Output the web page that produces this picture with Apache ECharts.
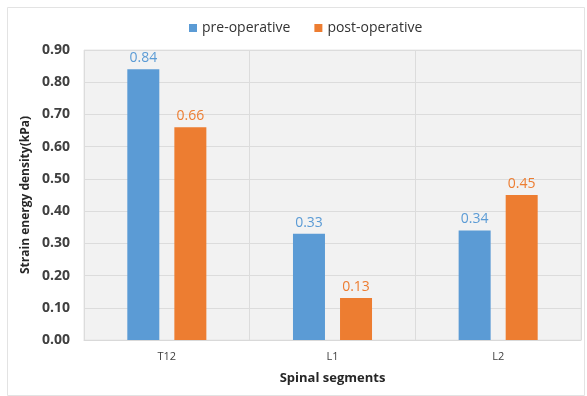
<!DOCTYPE html>
<html>
<head>
<meta charset="utf-8">
<script src="https://cdn.jsdelivr.net/npm/echarts@6/dist/echarts.min.js"></script>
<style>
  html, body { margin: 0; padding: 0; background: #fff; }
  #chart { width: 587px; height: 396px; }
</style>
</head>
<body>
<div id="chart"></div>
<script>
// Spinal segments and strain energy density per condition (kPa)
const segments = ['T12', 'L1', 'L2'];
const preOperative = [0.84, 0.33, 0.34];
const postOperative = [0.66, 0.13, 0.45];
const seriesNames = ['pre-operative', 'post-operative'];
const yTicks = { min: 0, max: 0.9, interval: 0.1 };

const BLUE = '#5b9bd5';
const ORANGE = '#ed7d31';
const FONT = 'Open Sans';

const chart = echarts.init(document.getElementById('chart'), null, { renderer: 'canvas' });

function barSeries(name, data, color) {
  return {
    name: name,
    type: 'bar',
    data: data,
    barWidth: 32,
    barGap: '47%',
    itemStyle: { color: color },
    label: {
      show: true,
      position: 'top',
      distance: 4,
      color: color,
      fontFamily: FONT,
      fontSize: 14,
      formatter: p => p.value.toFixed(2)
    }
  };
}

chart.setOption({
  animation: false,
  backgroundColor: '#ffffff',
  graphic: [{
    type: 'rect',
    shape: { x: 7.5, y: 7.5, width: 577, height: 388 },
    style: { fill: 'none', stroke: '#e3e3e3', lineWidth: 1 },
    silent: true,
    z: -1
  }],
  legend: {
    top: 16,
    left: 184,
    itemWidth: 8,
    itemHeight: 8,
    itemGap: 24,
    icon: 'rect',
    textStyle: { fontFamily: FONT, fontSize: 14, color: '#333333' },
    data: seriesNames
  },
  grid: {
    left: 84,
    right: 6,
    top: 50,
    bottom: 56,
    show: true,
    backgroundColor: '#f2f2f2',
    borderColor: '#e6e6e6',
    borderWidth: 1
  },
  xAxis: {
    type: 'category',
    data: segments,
    name: 'Spinal segments',
    nameLocation: 'middle',
    nameGap: 32,
    nameTextStyle: { fontFamily: FONT, fontSize: 13, fontWeight: 'bold', color: '#262626' },
    axisLine: { show: true, lineStyle: { color: '#d9d9d9' } },
    axisTick: { show: false },
    axisLabel: { fontFamily: FONT, fontSize: 11, color: '#404040', margin: 11 },
    splitLine: { show: true, lineStyle: { color: '#dcdcdc', width: 1 } }
  },
  yAxis: {
    type: 'value',
    min: yTicks.min,
    max: yTicks.max,
    interval: yTicks.interval,
    name: 'Strain energy density(kPa)',
    nameLocation: 'middle',
    nameGap: 52,
    nameTextStyle: { fontFamily: FONT, fontSize: 12, fontWeight: 'bold', color: '#262626' },
    axisLine: { show: false },
    axisTick: { show: false },
    axisLabel: {
      fontFamily: FONT,
      fontSize: 14,
      fontWeight: 'bold',
      color: '#404040',
      margin: 14,
      formatter: v => v.toFixed(2)
    },
    splitLine: { show: true, lineStyle: { color: '#dcdcdc', width: 1 } }
  },
  series: [
    barSeries(seriesNames[0], preOperative, BLUE),
    barSeries(seriesNames[1], postOperative, ORANGE)
  ]
});
</script>
</body>
</html>
